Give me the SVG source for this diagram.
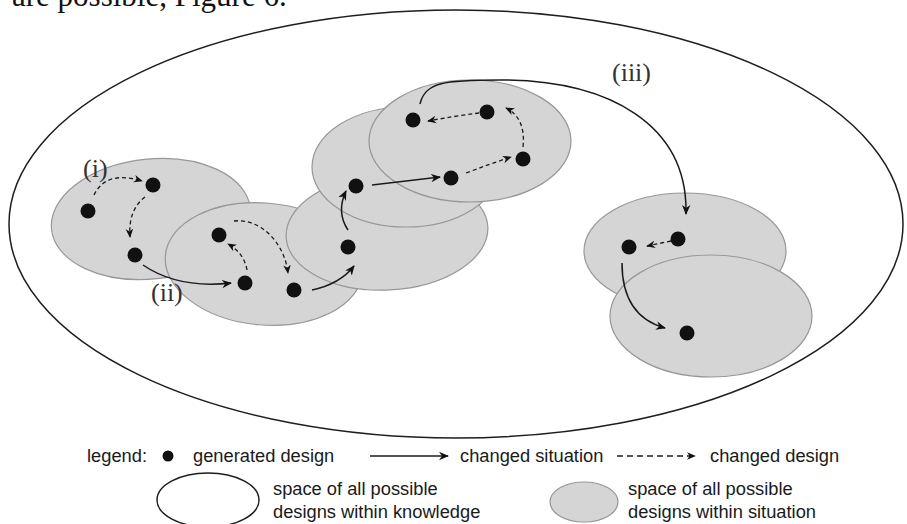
<svg xmlns="http://www.w3.org/2000/svg" width="907" height="524" viewBox="0 0 907 524">
<defs>
<marker id="ah" viewBox="0 0 10 10" refX="9" refY="5" markerWidth="10" markerHeight="10" markerUnits="userSpaceOnUse" orient="auto">
<path d="M0,0.8 L10,5 L0,9.2 L3,5 z" fill="#111"/>
</marker>
<marker id="ahs" viewBox="0 0 10 10" refX="9" refY="5" markerWidth="9" markerHeight="9" markerUnits="userSpaceOnUse" orient="auto">
<path d="M0,0.8 L10,5 L0,9.2 L3,5 z" fill="#111"/>
</marker>
</defs>
<style>
.know{fill:none;stroke:#1e1e1e;stroke-width:1.5}
.sit{fill:#d5d5d5;stroke:#979797;stroke-width:1.2}
.dot{fill:#111}
.solid{fill:none;stroke:#1a1a1a;stroke-width:1.5;marker-end:url(#ah)}
.dash{fill:none;stroke:#1a1a1a;stroke-width:1.3;stroke-dasharray:4 3;marker-end:url(#ahs)}
.lbl{font-family:"Liberation Serif","Times New Roman",serif;font-size:26px;fill:#333}
.leg{font-family:"Liberation Sans",Arial,sans-serif;font-size:18.3px;fill:#1a1a1a}
</style>
<rect width="907" height="524" fill="#ffffff"/>
<text x="12" y="6" style="font-family:'Liberation Serif','Times New Roman',serif;font-size:31px;fill:#111">are possible, Figure 6.</text>

<g id="knowledge-space"><ellipse class="know" cx="456" cy="224" rx="447" ry="214"/></g>

<g id="situation-1"><ellipse class="sit" cx="151" cy="219" rx="100" ry="60" transform="rotate(-6 151 219)"/></g>
<g id="situation-2"><ellipse class="sit" cx="264" cy="264" rx="99" ry="61" transform="rotate(5 264 264)"/></g>
<g id="situation-3"><ellipse class="sit" cx="387" cy="232" rx="101" ry="58" transform="rotate(-3 387 232)"/></g>
<g id="situation-4"><ellipse class="sit" cx="406" cy="167" rx="94" ry="60"/></g>
<g id="situation-5"><ellipse class="sit" cx="470" cy="141" rx="101" ry="61"/></g>
<g id="situation-6"><ellipse class="sit" cx="685" cy="251" rx="101" ry="58"/></g>
<g id="situation-7"><ellipse class="sit" cx="711" cy="316" rx="101" ry="61"/></g>

<g id="connectors">
<path class="dash" d="M94,195 Q106,170 142,181"/>
<path class="dash" d="M145,197 Q128,210 130,237"/>
<path class="dash" d="M247,270 Q244,253 228,244"/>
<path class="dash" d="M234,221 C258,218 284,240 288,273"/>
<path class="dash" d="M466,173 Q490,164 511,157"/>
<path class="dash" d="M523,147 Q526,118 506,108"/>
<path class="dash" d="M479,113 Q455,116 428,121"/>
<path class="dash" d="M671,241 L647,246"/>
<path class="solid" d="M143,265 C165,280 195,287 231,283"/>
<path class="solid" d="M312,290 Q340,284 354,266"/>
<path class="solid" d="M348,230 Q336,212 346,191"/>
<path class="solid" d="M372,185 L440,177"/>
<path class="solid" d="M420,104 C425,82 445,80 500,80 C610,80 688,125 686,214"/>
<path class="solid" d="M622,263 C622,298 636,320 665,328"/>
</g>

<g id="design-1"><circle class="dot" cx="88" cy="211" r="7.5"/></g>
<g id="design-2"><circle class="dot" cx="153" cy="185" r="7.5"/></g>
<g id="design-3"><circle class="dot" cx="135" cy="255" r="7.5"/></g>
<g id="design-4"><circle class="dot" cx="219" cy="235" r="7.5"/></g>
<g id="design-5"><circle class="dot" cx="245" cy="283" r="7.5"/></g>
<g id="design-6"><circle class="dot" cx="294" cy="290" r="7.5"/></g>
<g id="design-7"><circle class="dot" cx="348" cy="247" r="7.5"/></g>
<g id="design-8"><circle class="dot" cx="356" cy="186" r="7.5"/></g>
<g id="design-9"><circle class="dot" cx="413" cy="120" r="7.5"/></g>
<g id="design-10"><circle class="dot" cx="487" cy="112" r="7.5"/></g>
<g id="design-11"><circle class="dot" cx="451" cy="178" r="7.5"/></g>
<g id="design-12"><circle class="dot" cx="523" cy="159" r="7.5"/></g>
<g id="design-13"><circle class="dot" cx="629" cy="247" r="7.5"/></g>
<g id="design-14"><circle class="dot" cx="678" cy="239" r="7.5"/></g>
<g id="design-15"><circle class="dot" cx="687" cy="333" r="7.5"/></g>

<g id="labels">
<text class="lbl" x="83" y="177">(i)</text>
<text class="lbl" x="151" y="301">(ii)</text>
<text class="lbl" x="612" y="81">(iii)</text>
</g>

<g id="legend">
<text class="leg" x="87" y="462">legend:</text>
<circle class="dot" cx="168" cy="456" r="5.5"/>
<text class="leg" x="193" y="462">generated design</text>
<path class="solid" d="M370,456 L448,456"/>
<text class="leg" x="460" y="462">changed situation</text>
<path class="dash" style="stroke-dasharray:6 4" d="M617,456 L695,456"/>
<text class="leg" x="710" y="462">changed design</text>
<ellipse class="know" cx="208" cy="500" rx="51" ry="27"/>
<text class="leg" x="273" y="495">space of all possible</text>
<text class="leg" x="273" y="518">designs within knowledge</text>
<ellipse class="sit" cx="584" cy="502" rx="34" ry="20"/>
<text class="leg" x="628" y="495">space of all possible</text>
<text class="leg" x="628" y="518">designs within situation</text>
</g>
</svg>
